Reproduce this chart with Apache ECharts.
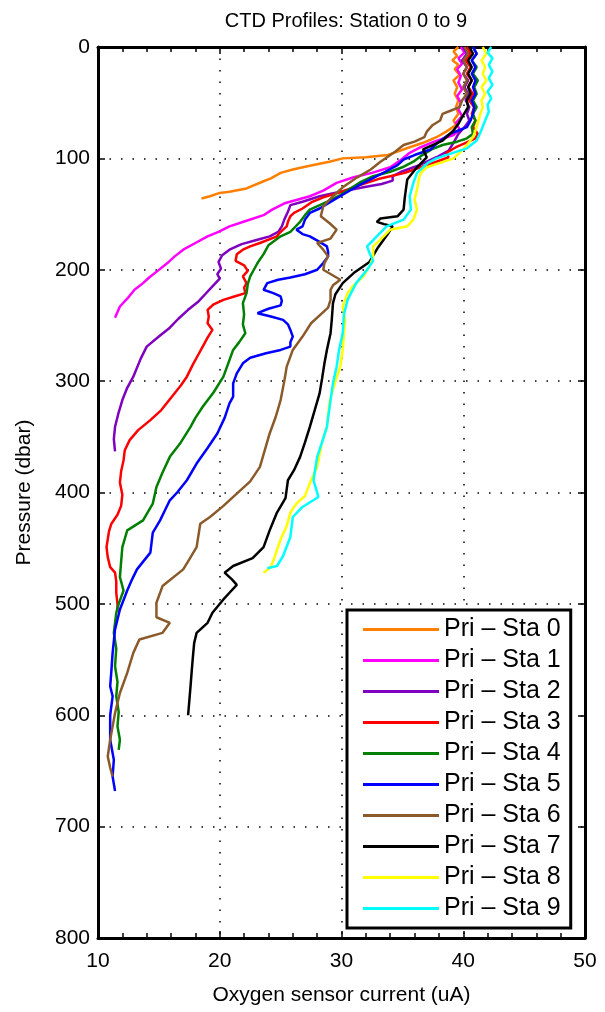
<!DOCTYPE html>
<html>
<head>
<meta charset="utf-8">
<script src="https://cdn.jsdelivr.net/npm/echarts@6/dist/echarts.min.js"></script>
<style>
  html, body { margin: 0; padding: 0; background: #fff; }
  #chartDom { width: 605px; height: 1012px; }
</style>
</head>
<body>
<div id="chartDom"></div>
<script>
// profiles: [oxygen current (uA), pressure (dbar)]
const sta0 = [[39.6,0],[39.2,4],[39.5,8],[39.1,12],[39.6,16],[39.3,20],[39.7,25],[39.2,30],[39.5,36],[39.3,42],[39.6,48],[39.4,54],[39.6,60],[39.2,66],[39.4,70],[38.6,76],[37.8,81],[36.7,86],[35.6,90],[34.6,94],[33.8,97],[32.0,99],[30.1,100],[29.0,103],[27.2,107],[26.0,110],[25.0,113],[24.2,118],[23.5,121],[22.2,127],[20.8,130],[20.0,131],[19.2,134],[18.5,136]];
const sta1 = [[39.8,0],[40.1,5],[39.6,10],[39.9,15],[39.5,20],[39.8,26],[39.6,32],[39.9,38],[39.5,44],[39.8,50],[39.6,56],[39.9,62],[39.4,68],[39.7,74],[39.2,79],[38.4,82],[37.6,85],[36.5,90],[35.6,95],[34.8,102],[34.0,108],[32.5,113],[31.0,117],[29.6,122],[28.5,129],[27.4,134],[25.4,140],[24.3,146],[23.6,151],[22.2,156],[20.8,161],[19.9,166],[19.0,170],[18.0,176],[17.0,182],[16.3,188],[15.7,194],[14.9,201],[14.2,207],[13.7,212],[13.0,218],[12.4,226],[11.8,233],[11.6,238],[11.4,243]];
const sta2 = [[40.0,0],[40.3,6],[39.9,12],[40.3,18],[40.0,24],[40.4,30],[40.1,36],[40.4,42],[40.2,48],[40.5,54],[40.3,60],[40.5,66],[40.1,72],[39.6,78],[39.2,86],[38.8,93],[37.8,99],[36.4,106],[34.9,112],[34.2,116],[34.2,120],[33.3,123],[31.8,126],[29.9,130],[28.2,134],[26.8,139],[25.8,142],[25.6,148],[25.3,155],[25.1,161],[24.8,166],[24.1,170],[23.1,173],[21.8,177],[20.8,182],[20.2,187],[19.9,193],[20.1,199],[19.8,204],[20.0,208],[19.4,215],[18.8,222],[18.2,229],[17.4,236],[16.6,244],[15.9,252],[15.0,260],[14.0,269],[13.5,280],[12.9,296],[12.4,306],[12.0,317],[11.7,328],[11.4,341],[11.3,352],[11.4,363]];
const sta3 = [[40.3,0],[40.6,6],[40.2,12],[40.6,18],[40.3,24],[40.7,30],[40.4,36],[40.8,42],[40.5,48],[40.9,54],[40.7,60],[41.0,66],[40.8,72],[41.2,78],[41.0,82],[40.2,86],[39.4,90],[38.6,95],[38.8,99],[37.8,103],[36.5,108],[35.2,113],[33.2,118],[31.5,124],[30.0,130],[28.5,135],[27.6,139],[26.8,145],[26.1,149],[25.8,152],[25.6,157],[25.5,161],[24.9,167],[24.7,170],[23.3,176],[22.5,179],[21.9,182],[21.4,186],[21.3,192],[22.0,196],[22.3,201],[21.9,206],[22.2,212],[22.0,216],[22.1,221],[21.2,224],[20.3,227],[19.5,231],[19.0,236],[19.1,242],[19.0,248],[19.4,254],[19.0,261],[18.6,269],[18.2,277],[17.8,285],[17.3,296],[16.8,304],[16.0,315],[15.2,326],[14.3,335],[13.3,344],[12.6,353],[12.2,362],[12.1,371],[11.9,381],[11.8,391],[12.0,402],[11.9,412],[11.6,420],[11.1,428],[10.9,435],[10.7,449],[10.8,458],[11.0,467],[11.4,472],[11.5,480],[11.5,490],[11.6,500],[11.6,507]];
const sta4 = [[40.8,0],[41.1,6],[40.7,12],[41.1,18],[40.8,24],[41.2,30],[40.9,36],[41.1,42],[40.8,48],[41.1,54],[40.8,60],[41.0,66],[40.7,72],[40.8,78],[40.3,82],[39.5,85],[38.3,88],[37.4,92],[36.5,98],[35.9,103],[35.0,108],[34.0,112],[32.6,116],[31.6,121],[30.6,128],[29.9,133],[28.8,139],[27.4,146],[27.0,151],[26.6,157],[25.8,166],[25.0,170],[24.0,178],[23.6,186],[23.1,194],[22.8,200],[22.5,206],[22.3,213],[22.2,221],[21.9,230],[22.0,240],[21.9,249],[22.1,257],[21.6,265],[21.1,272],[20.7,284],[20.3,296],[19.5,310],[18.6,323],[18.0,333],[17.6,341],[16.8,355],[15.9,368],[15.3,382],[14.8,395],[14.5,410],[13.7,425],[12.4,434],[12.0,449],[11.9,462],[11.8,476],[12.1,488],[11.7,500],[11.5,508],[11.3,526],[11.5,540],[11.4,556],[11.6,570],[11.5,583],[11.7,597],[11.6,610],[11.8,622],[11.7,631]];
const sta5 = [[40.8,0],[41.1,6],[40.7,12],[41.0,18],[40.7,24],[41.0,30],[40.8,36],[41.0,42],[40.7,48],[40.9,54],[40.8,60],[40.6,66],[40.3,72],[39.6,75],[38.9,78],[38.0,85],[37.3,92],[36.0,97],[35.1,101],[34.6,106],[33.6,112],[32.9,116],[31.3,125],[30.2,132],[29.1,139],[28.2,145],[27.4,149],[27.0,155],[26.8,161],[26.3,164],[26.8,168],[27.4,170],[28.2,175],[28.8,179],[28.9,184],[28.9,188],[28.5,194],[28.0,200],[27.0,204],[25.8,207],[24.8,209],[23.9,212],[23.6,218],[24.4,221],[25.0,224],[25.1,228],[25.0,232],[24.0,235],[23.1,239],[24.2,242],[25.2,245],[25.6,249],[25.8,254],[26.0,260],[25.8,265],[25.8,269],[25.0,272],[23.8,275],[22.5,279],[21.9,284],[21.4,293],[21.1,302],[21.1,314],[20.8,320],[20.4,333],[19.8,347],[19.0,360],[18.1,374],[17.3,389],[16.5,400],[15.9,407],[15.5,416],[15.1,425],[14.5,436],[14.3,454],[13.2,469],[12.8,478],[12.4,488],[11.8,505],[11.4,523],[11.2,544],[11.1,560],[11.0,574],[11.2,583],[11.0,600],[11.0,622],[11.3,640],[11.2,655],[11.4,668]];
const sta6 = [[40.1,0],[40.4,6],[40.0,12],[40.3,18],[40.0,24],[40.3,30],[40.0,36],[40.3,42],[39.9,48],[39.7,54],[39.0,57],[38.3,60],[38.1,66],[37.5,70],[37.0,76],[36.8,81],[36.0,85],[35.1,88],[34.4,94],[33.2,103],[32.4,110],[31.3,117],[30.1,126],[29.3,134],[28.5,143],[28.3,152],[29.0,158],[29.6,164],[29.1,172],[28.0,176],[28.5,182],[28.9,188],[28.6,194],[28.5,200],[29.9,209],[29.3,214],[29.1,218],[29.1,227],[28.9,234],[28.5,238],[27.5,248],[26.8,260],[26.0,272],[25.5,287],[25.3,300],[25.0,317],[24.6,332],[24.1,347],[23.7,362],[23.3,377],[22.5,390],[21.4,401],[20.3,412],[19.2,422],[18.4,428],[18.1,449],[17.5,460],[17.0,469],[15.3,484],[14.8,499],[14.8,512],[15.9,517],[15.3,526],[13.4,532],[12.9,544],[12.4,562],[11.8,580],[11.4,598],[11.2,610],[11.0,622],[10.8,637],[11.0,647],[11.2,655]];
const sta7 = [[40.5,0],[40.8,6],[40.4,12],[40.7,18],[40.4,24],[40.7,30],[40.4,36],[40.6,42],[40.3,48],[40.4,54],[39.9,63],[39.6,69],[39.2,75],[38.3,84],[37.3,89],[36.7,92],[37.0,99],[36.2,108],[35.4,119],[35.3,127],[35.2,135],[35.1,146],[34.6,152],[33.2,154],[32.9,157],[33.5,159],[34.2,161],[33.8,168],[33.0,180],[32.3,193],[31.0,203],[30.1,212],[29.5,222],[29.3,230],[29.2,245],[29.1,257],[28.8,272],[28.6,284],[28.4,298],[28.2,311],[27.8,326],[27.4,341],[27.0,355],[26.6,368],[26.1,380],[25.6,389],[25.4,405],[24.7,418],[24.1,434],[23.6,449],[22.7,459],[21.1,466],[20.4,472],[21.0,478],[21.4,483],[20.8,490],[20.3,496],[19.4,508],[19.0,517],[18.1,526],[17.9,535],[17.8,547],[17.7,560],[17.6,574],[17.5,587],[17.4,600]];
const sta8 = [[41.6,0],[41.9,6],[41.5,12],[41.8,18],[41.6,24],[41.9,30],[41.5,36],[41.8,42],[41.5,48],[41.6,54],[41.4,60],[41.2,68],[41.0,75],[40.8,81],[40.3,88],[39.7,95],[39.2,100],[38.1,104],[37.0,108],[36.6,112],[36.4,116],[36.2,128],[36.0,137],[36.2,146],[35.9,155],[35.4,161],[34.0,164],[33.2,173],[32.6,179],[32.6,188],[32.3,197],[31.8,206],[30.9,215],[30.5,221],[30.1,233],[30.3,245],[30.2,257],[30.1,272],[29.9,287],[29.5,300],[29.2,311],[29.0,320],[28.8,341],[28.4,355],[28.0,377],[27.5,389],[27.0,403],[26.3,410],[25.8,418],[25.5,430],[25.0,442],[24.5,458],[24.2,467],[23.6,472]];
const sta9 = [[42.3,0],[42.0,5],[42.4,10],[42.1,16],[42.4,22],[42.1,28],[42.4,34],[42.0,40],[42.3,46],[42.0,52],[42.1,58],[41.8,66],[41.4,77],[41.1,84],[40.3,91],[38.9,96],[37.8,100],[37.1,104],[36.7,108],[36.2,113],[35.9,122],[35.6,134],[35.7,146],[35.1,155],[33.7,161],[32.9,170],[32.1,179],[32.3,185],[32.6,192],[32.1,200],[31.2,212],[30.5,227],[30.2,240],[30.1,257],[29.8,272],[29.6,287],[29.3,302],[29.1,317],[28.8,341],[28.4,355],[28.0,368],[27.7,389],[28.1,404],[26.8,413],[26.0,422],[25.8,440],[25.2,457],[24.7,466],[23.9,468]];

const names = ["Pri – Sta 0","Pri – Sta 1","Pri – Sta 2","Pri – Sta 3","Pri – Sta 4","Pri – Sta 5","Pri – Sta 6","Pri – Sta 7","Pri – Sta 8","Pri – Sta 9"];
const profiles = [sta0, sta1, sta2, sta3, sta4, sta5, sta6, sta7, sta8, sta9];
const colors = ["#ff7f00","#ff00ff","#7f00bf","#ff0000","#007f00","#0000ff","#8b5a2b","#000000","#ffff00","#00ffff"];

const font = "'Liberation Sans', Arial, sans-serif";

let myChart = echarts.init(document.getElementById("chartDom"));

// same frame settings for all four sides
const frameLine = { show: true, onZero: false, lineStyle: { color: "#000", width: 3 } };
const ticks = { show: true, inside: true, length: 7, lineStyle: { color: "#000", width: 1.5 } };
const dotted = { show: true, lineStyle: { color: "#000", width: 1.5, type: [1.5, 10] } };

myChart.setOption({
  animation: false,
  color: colors,
  title: {
    text: "CTD Profiles: Station 0 to 9",
    left: 341,
    top: 6,
    textAlign: "center",
    textStyle: { fontFamily: font, fontSize: 20, fontWeight: "normal", color: "#000" }
  },
  grid: { left: 98, right: 20, top: 47, bottom: 74 },
  legend: {
    orient: "vertical",
    left: 347,
    top: 610,
    padding: [4, 10, 4, 16],
    itemGap: 0,
    itemWidth: 76,
    itemHeight: 3,
    itemTextGap: 9,
    icon: "rect",
    backgroundColor: "#fff",
    borderColor: "#000",
    borderWidth: 3,
    borderRadius: 0,
    textStyle: { fontFamily: font, fontSize: 25, color: "#000", lineHeight: 31 },
    data: names
  },
  xAxis: [
    {
      type: "value", min: 10, max: 50, interval: 10, position: "bottom",
      axisLine: frameLine, axisTick: ticks,
      minorTick: { show: true, splitNumber: 5, length: 5, lineStyle: { color: "#000", width: 1.5 } },
      splitLine: dotted,
      axisLabel: { fontFamily: font, fontSize: 21, color: "#000", margin: 13 },
      name: "Oxygen sensor current (uA)",
      nameLocation: "middle",
      nameGap: 47,
      nameTextStyle: { fontFamily: font, fontSize: 21, color: "#000", verticalAlign: "top" }
    },
    {
      type: "value", min: 10, max: 50, interval: 10, position: "top",
      axisLine: frameLine, axisTick: ticks,
      minorTick: { show: true, splitNumber: 5, length: 5, lineStyle: { color: "#000", width: 1.5 } },
      splitLine: { show: false }, axisLabel: { show: false }
    }
  ],
  yAxis: [
    {
      type: "value", min: 0, max: 800, interval: 100, inverse: true, position: "left",
      axisLine: frameLine, axisTick: ticks, splitLine: dotted,
      axisLabel: { fontFamily: font, fontSize: 21, color: "#000", margin: 8 },
      name: "Pressure (dbar)",
      nameLocation: "middle",
      nameGap: 63,
      nameRotate: 90,
      nameTextStyle: { fontFamily: font, fontSize: 21, color: "#000" }
    },
    {
      type: "value", min: 0, max: 800, interval: 100, inverse: true, position: "right",
      axisLine: frameLine, axisTick: ticks,
      splitLine: { show: false }, axisLabel: { show: false }
    }
  ],
  series: profiles.map((d, i) => ({
    name: names[i],
    type: "line",
    xAxisIndex: 0,
    yAxisIndex: 0,
    data: d,
    symbol: "none",
    showSymbol: false,
    lineStyle: { width: 2.5, color: colors[i] },
    z: 3
  }))
});
</script>
</body>
</html>
